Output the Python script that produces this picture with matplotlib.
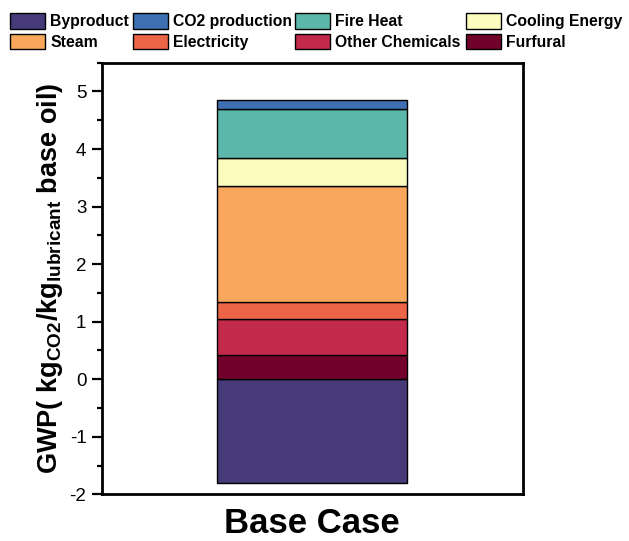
import numpy as np
import matplotlib
matplotlib.use("Agg")
import matplotlib.pyplot as plt
from matplotlib.ticker import MultipleLocator

plt.rcParams["font.family"] = ["Liberation Sans", "DejaVu Sans"]
plt.rcParams["mathtext.default"] = "regular"
plt.rcParams["axes.unicode_minus"] = False

# ---- data ----
case = "Base Case"
stack_names = ["Furfural", "Other Chemicals", "Electricity", "Steam",
               "Cooling Energy", "Fire Heat", "CO2 production"]
stack_vals = [0.42, 0.62, 0.31, 2.00, 0.49, 0.86, 0.16]
neg_name = "Byproduct"
neg_val = -1.80

colors = {
    "Byproduct": "#463a78",
    "CO2 production": "#3f70b4",
    "Fire Heat": "#5bb7a9",
    "Cooling Energy": "#fcfcbf",
    "Steam": "#f9a75c",
    "Electricity": "#ed6547",
    "Other Chemicals": "#c2294b",
    "Furfural": "#71002a",
}

W, H = 629, 541
fig = plt.figure(figsize=(W / 100, H / 100), dpi=100)
ax = fig.add_axes([101.7 / W, 1 - 494.3 / H, 421 / W, 431.6 / H])

handles = {}
x = [0]
handles[neg_name] = ax.bar(x, [neg_val], width=0.9, color=colors[neg_name],
                           edgecolor="black", linewidth=1.0)
bottoms = np.concatenate([[0], np.cumsum(stack_vals)[:-1]])
for name, v, b in zip(stack_names, stack_vals, bottoms):
    handles[name] = ax.bar(x, [v], bottom=[b], width=0.9, color=colors[name],
                           edgecolor="black", linewidth=1.0)

ax.set_xlim(-1, 1)
ax.set_ylim(-2, 5.5)
ax.yaxis.set_major_locator(MultipleLocator(1))
ax.yaxis.set_minor_locator(MultipleLocator(0.5))
ax.set_xticks([])
ax.tick_params(axis="y", which="major", direction="out", length=7, width=1.6,
               labelsize=13.5, pad=4)
ax.tick_params(axis="y", which="minor", direction="out", length=3.5, width=1.6)
for s in ax.spines.values():
    s.set_linewidth(2.0)

ax.set_xlabel(case, fontsize=25, fontweight="bold", labelpad=9)
ax.set_ylabel("GWP( kg$_{CO2}$/kg$_{lubricant}$ base oil)", fontsize=19.5,
              fontweight="bold", labelpad=3)

# legend: 4 columns of 2 rows, placed by hand like the original
cols = [["Byproduct", "Steam"], ["CO2 production", "Electricity"],
        ["Fire Heat", "Other Chemicals"], ["Cooling Energy", "Furfural"]]
col_x = [10, 133, 295, 466]
for names, cx in zip(cols, col_x):
    fig.legend([handles[n] for n in names], names, loc="upper left",
               bbox_to_anchor=(cx / W, 1 - 13.5 / H), frameon=False,
               borderpad=0, borderaxespad=0, handlelength=2.2,
               handleheight=1.1, handletextpad=0.38, labelspacing=0.3,
               prop={"weight": "bold", "size": 11.3})

fig.savefig("out.png", dpi=100)
